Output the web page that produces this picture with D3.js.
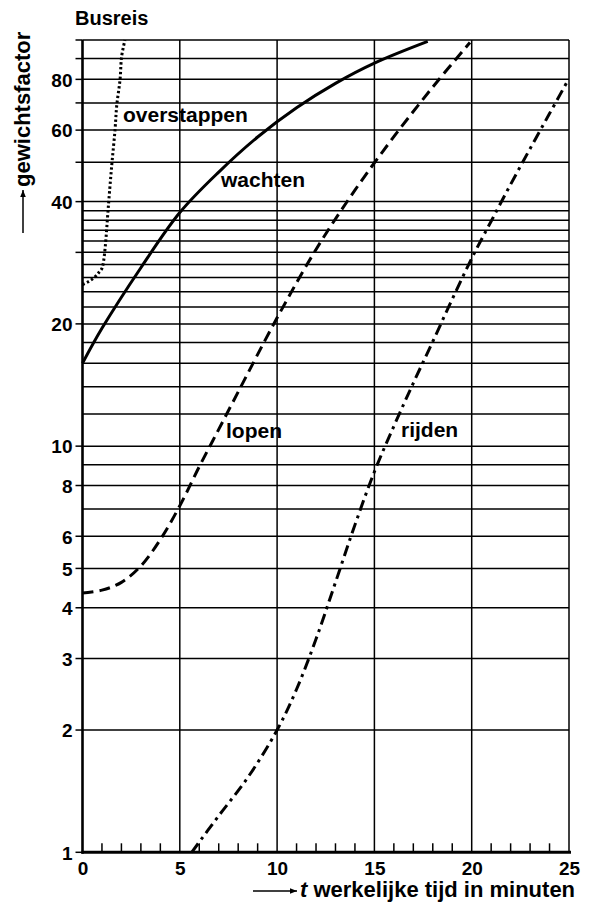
<!DOCTYPE html>
<html><head><meta charset="utf-8">
<script src="https://cdn.jsdelivr.net/npm/d3@7"></script>
<style>
body{margin:0;background:#fff}
svg{display:block}
text{font-family:"Liberation Sans",Arial,Helvetica,sans-serif;font-weight:bold;fill:#000}
</style>
</head><body>
<svg id="c" width="592" height="912"></svg>
<script>
// ---- data ----
const title = "Busreis";
const yTitle = "gewichtsfactor";
const xTitle = " werkelijke tijd in minuten";
const xTickLabels = [0, 5, 10, 15, 20, 25];
const xMinorTicks = [1,2,3,4,6,7,8,9,11,12,13,14,16,17,18,19,21,22,23,24];
const yTickLabels = [1, 2, 3, 4, 5, 6, 8, 10, 20, 40, 60, 80];
const yTickMarks = [1,2,3,4,5,6,8,10,20,30,40,50,60,70,80,90,100];
const yGridValues = [2,3,4,5,6,7,8,9,10,12,14,16,18,20,22,24,26,28,30,32,34,36,38,40,50,60,70,80,90,100];

const overstappenT = [0, 0.3, 0.6, 0.85, 1.0, 1.08, 1.17, 1.33, 1.5, 1.67, 1.76, 1.93, 2.01, 2.18];
const overstappenV = [25, 25.4, 26, 26.8, 27.4, 28.5, 31, 39, 49, 60, 69, 80, 91, 100];
const wachtenT = [0, 1, 3, 5, 7, 9, 11, 13, 15, 17.74];
const wachtenV = [16, 19.5, 27.5, 37.6, 47.3, 57.7, 68.1, 78.2, 87.7, 99.2];
const lopenT = [0, 1, 2, 3, 4, 5, 6, 7, 8, 10, 12, 14, 16, 18, 19.91];
const lopenV = [4.35, 4.42, 4.62, 5.07, 5.89, 7.13, 8.9, 11.0, 13.6, 20.7, 30.5, 42.7, 57.8, 76.6, 98.6];
const rijdenT = [5.61, 7, 8.5, 10, 11, 12, 13, 14, 15, 16, 17, 18, 19, 20, 21, 22, 23, 24, 24.88];
const rijdenV = [1.0, 1.23, 1.53, 2.0, 2.52, 3.35, 4.62, 6.4, 8.65, 11.2, 14.3, 18.1, 23.0, 29.0, 35.8, 44.1, 54.0, 65.9, 78.5];

const seriesNames = ["overstappen", "wachten", "lopen", "rijden"];

// ---- layout ----
const svg = d3.select("#c");
const x = d3.scaleLinear().domain([0, 25]).range([82.5, 569]);
const y = d3.scaleLog().domain([1, 100]).range([852.3, 40]);

const g = svg.append("g");

// horizontal grid
g.selectAll("line.hg").data(yGridValues).join("line")
  .attr("x1", x(0)).attr("x2", x(25))
  .attr("y1", d => y(d)).attr("y2", d => y(d))
  .attr("stroke", "#000").attr("stroke-width", 1.5);

// vertical grid
g.selectAll("line.vg").data(xTickLabels.filter(d => d > 0)).join("line")
  .attr("x1", d => x(d)).attr("x2", d => x(d))
  .attr("y1", y(1)).attr("y2", y(100))
  .attr("stroke", "#000").attr("stroke-width", 1.5);

// minor x ticks (upward)
g.selectAll("line.mx").data(xMinorTicks).join("line")
  .attr("x1", d => x(d)).attr("x2", d => x(d))
  .attr("y1", y(1)).attr("y2", y(1) - 9)
  .attr("stroke", "#000").attr("stroke-width", 1.5);

// y tick marks to left
g.selectAll("line.yt").data(yTickMarks).join("line")
  .attr("x1", x(0) - 7).attr("x2", x(0))
  .attr("y1", d => y(d)).attr("y2", d => y(d))
  .attr("stroke", "#000").attr("stroke-width", 1.5);

// left axis line and bottom axis line
g.append("line").attr("x1", x(0)).attr("x2", x(0)).attr("y1", y(1) + 1.5).attr("y2", y(100))
  .attr("stroke", "#000").attr("stroke-width", 2.6);
g.append("line").attr("x1", x(0) - 1).attr("x2", x(25) + 2).attr("y1", y(1)).attr("y2", y(1))
  .attr("stroke", "#000").attr("stroke-width", 3);

// y axis labels via d3 axis
const yAxis = d3.axisLeft(y).tickValues(yTickLabels).tickFormat(d3.format("d")).tickSize(0).tickPadding(10);
const ya = svg.append("g").attr("transform", `translate(${x(0)},0)`).call(yAxis);
ya.select(".domain").remove();
ya.selectAll("text").style("font-size", "19px").attr("dy", "0.36em");

// x axis labels
const xAxis = d3.axisBottom(x).tickValues(xTickLabels).tickFormat(d3.format("d")).tickSize(0).tickPadding(9);
const xa = svg.append("g").attr("transform", `translate(0,${y(1)})`).call(xAxis);
xa.select(".domain").remove();
xa.selectAll("text").style("font-size", "19px");

// curves
const line = d3.line().x(d => x(d[0])).y(d => y(d[1])).curve(d3.curveCatmullRom.alpha(0.5));
const zip = (a, b) => a.map((v, i) => [v, b[i]]);
const curves = [
  {pts: zip(overstappenT, overstappenV), w: 3, dash: "2.4,2.4"},
  {pts: zip(wachtenT, wachtenV), w: 3, dash: null},
  {pts: zip(lopenT, lopenV), w: 3, dash: "11,6"},
  {pts: zip(rijdenT, rijdenV), w: 3, dash: "11,5,3,5"}
];
svg.append("g").selectAll("path").data(curves).join("path")
  .attr("d", d => line(d.pts))
  .attr("fill", "none").attr("stroke", "#000")
  .attr("stroke-width", d => d.w)
  .attr("stroke-dasharray", d => d.dash);

// curve labels
const labelPos = [[123, 122], [221, 187], [226, 438], [401, 437]];
svg.append("g").selectAll("text").data(seriesNames).join("text")
  .attr("x", (d, i) => labelPos[i][0]).attr("y", (d, i) => labelPos[i][1])
  .style("font-size", "21px").text(d => d);

// title
svg.append("text").attr("x", 75).attr("y", 25).style("font-size", "20px").text(title);

// arrow marker
svg.append("defs").append("marker").attr("id", "ah")
  .attr("viewBox", "0 0 10 10").attr("refX", 10).attr("refY", 5)
  .attr("markerWidth", 11).attr("markerHeight", 7).attr("markerUnits", "userSpaceOnUse")
  .attr("orient", "auto")
  .append("path").attr("d", "M0,1 L10,5 L0,9 Z").attr("fill", "#000");

// y title (rotated) and arrow
svg.append("text").attr("transform", "translate(30,187) rotate(-90)")
  .style("font-size", "22px").text(yTitle);
svg.append("line").attr("x1", 23).attr("x2", 23).attr("y1", 233).attr("y2", 190)
  .attr("stroke", "#000").attr("stroke-width", 1.5).attr("marker-end", "url(#ah)");

// x title and arrow
svg.append("line").attr("x1", 253).attr("x2", 297).attr("y1", 891).attr("y2", 891)
  .attr("stroke", "#000").attr("stroke-width", 1.5).attr("marker-end", "url(#ah)");
const xt = svg.append("text").attr("x", 300).attr("y", 897).style("font-size", "22px");
xt.append("tspan").style("font-style", "italic").text("t");
xt.append("tspan").text(xTitle);
</script>
</body></html>
